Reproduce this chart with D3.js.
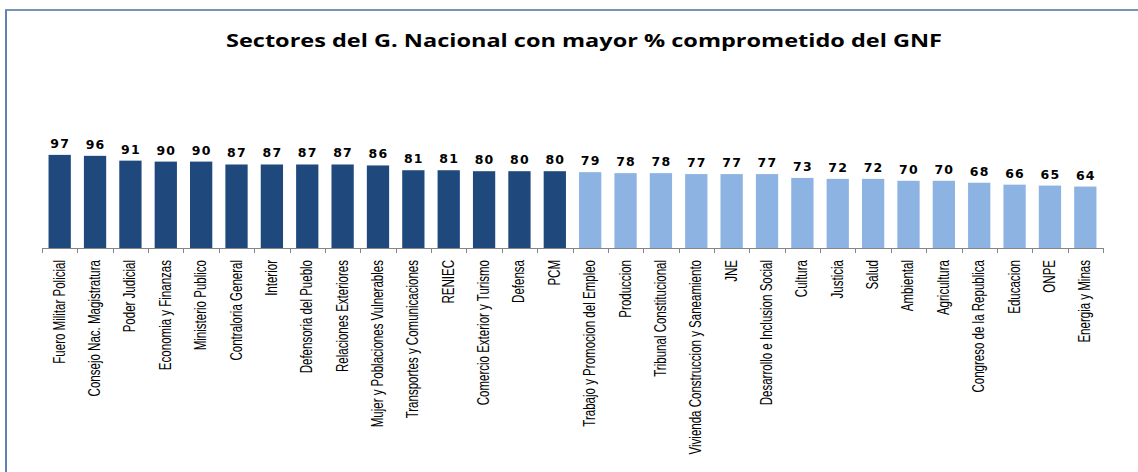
<!DOCTYPE html>
<html><head><meta charset="utf-8">
<script src="https://cdn.jsdelivr.net/npm/d3@7"></script>
<style>body{margin:0;background:#fff;}svg{display:block;}</style>
</head><body>
<svg id="c" width="1138" height="472"></svg>
<script>
const titleText = "Sectores del G. Nacional con mayor % comprometido del GNF";
const categories = ["Fuero Militar Policial","Consejo Nac. Magistratura","Poder Judicial","Economia y Finanzas","Ministerio Publico","Contraloria General","Interior","Defensoria del Pueblo","Relaciones Exteriores","Mujer y Poblaciones Vulnerables","Transportes y Comunicaciones","RENIEC","Comercio Exterior y Turismo","Defensa","PCM","Trabajo y Promocion del Empleo","Produccion","Tribunal Constitucional","Vivienda Construccion y Saneamiento","JNE","Desarrollo e Inclusion Social","Cultura","Justicia","Salud","Ambiental","Agricultura","Congreso de la Republica","Educacion","ONPE","Energia y Minas"];
const values = [97,96,91,90,90,87,87,87,87,86,81,81,80,80,80,79,78,78,77,77,77,73,72,72,70,70,68,66,65,64];
const groups = ["alto","alto","alto","alto","alto","alto","alto","alto","alto","alto","alto","alto","alto","alto","alto","bajo","bajo","bajo","bajo","bajo","bajo","bajo","bajo","bajo","bajo","bajo","bajo","bajo","bajo","bajo"];

const svg = d3.select("#c");
// frame
svg.append("rect").attr("x",6).attr("y",10).attr("width",1140).attr("height",470)
  .attr("fill","none").attr("stroke","#2c5a9a").attr("stroke-width",1.5);
svg.append("line").attr("x1",6).attr("x2",1138).attr("y1",10).attr("y2",10)
  .attr("stroke","#8fa6c4").attr("stroke-width",1.2);

const color = d3.scaleOrdinal().domain(["alto","bajo"]).range(["#1f497d","#8db3e2"]);
const x = d3.scaleBand().domain(categories).range([42,1103]).paddingInner(0.37).paddingOuter(0.185);
const y = d3.scaleLinear().domain([0,100]).range([248,152]);

svg.append("text").attr("x",584).attr("y",47).attr("text-anchor","middle")
  .attr("font-family","'Open Sans', 'DejaVu Sans', sans-serif").attr("font-weight","bold")
  .attr("font-size",17.5).attr("fill","#000")
  .attr("textLength",716).attr("lengthAdjust","spacingAndGlyphs").text(titleText);

const data = categories.map((c,i)=>({c, v:values[i], g:groups[i]}));

svg.append("g").selectAll("rect").data(data).join("rect")
  .attr("x",d=>x(d.c)).attr("width",x.bandwidth())
  .attr("y",d=>y(d.v)).attr("height",d=>y(0)-y(d.v))
  .attr("fill",d=>color(d.g));

svg.append("g").selectAll("text").data(data).join("text")
  .attr("x",d=>x(d.c)+x.bandwidth()/2+0.5).attr("y",d=>y(d.v)-7)
  .attr("text-anchor","middle")
  .attr("font-family","'DejaVu Sans', Verdana, sans-serif").attr("font-weight","bold")
  .attr("font-size",12.5).attr("letter-spacing",1.2).attr("fill","#000")
  .text(d=>d.v);

// axis
const ax = svg.append("g");
ax.append("line").attr("x1",42).attr("x2",1103).attr("y1",248.5).attr("y2",248.5)
  .attr("stroke","#868686").attr("stroke-width",1);
const bounds = categories.map(c=>x(c)-x.step()*x.paddingInner()/2).concat([1103]);
ax.selectAll("line.t").data(bounds).join("line").attr("class","t")
  .attr("x1",d=>Math.round(d)+0.5).attr("x2",d=>Math.round(d)+0.5)
  .attr("y1",248).attr("y2",253).attr("stroke","#868686");

// category labels
const lbl = svg.append("g").selectAll("text").data(data).join("text")
  .attr("transform",d=>`translate(${x(d.c)+x.bandwidth()/2+5},260) rotate(-90)`)
  .attr("text-anchor","end")
  .attr("font-family","'Liberation Sans Narrow', 'Arial Narrow', sans-serif")
  .attr("font-size",16).attr("fill","#000")
  .text(d=>d.c);
lbl.each(function(){
  const w = this.getComputedTextLength();
  d3.select(this).attr("textLength", w*0.72).attr("lengthAdjust","spacingAndGlyphs");
});
</script>
</body></html>
